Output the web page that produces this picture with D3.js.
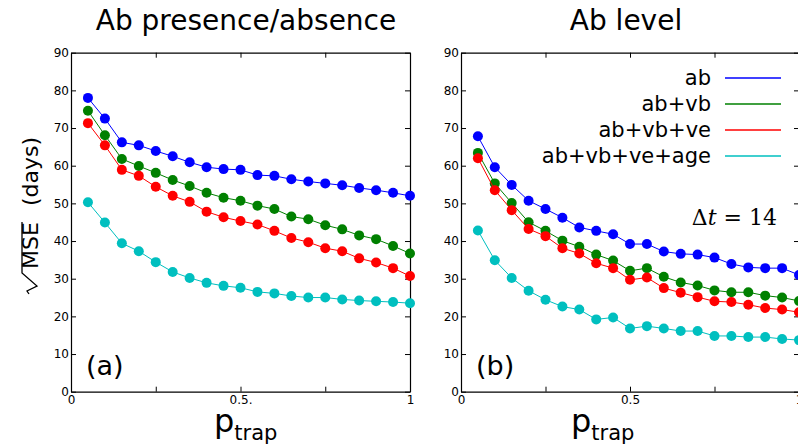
<!DOCTYPE html>
<html>
<head>
  <script src="https://d3js.org/d3.v7.min.js"></script>
  <style>
    body { margin: 0; background: #fff; }
    svg text { font-family: "DejaVu Sans", sans-serif; }
    .tick text { font-size: 12px; fill: #000; }
    .domain { stroke: #000; }
  </style>
</head>
<body>
  <script>
    // p_trap values on the x axis
    const pTrap = [0.05, 0.10, 0.15, 0.20, 0.25, 0.30, 0.35, 0.40, 0.45, 0.50,
                   0.55, 0.60, 0.65, 0.70, 0.75, 0.80, 0.85, 0.90, 0.95, 1.00];

    // (a) Ab presence/absence
    const presAb      = [78.0, 72.5, 66.2, 65.4, 63.9, 62.5, 60.9, 59.6, 59.1, 58.9, 57.5, 57.3, 56.4, 55.8, 55.3, 54.8, 54.1, 53.5, 52.8, 52.0];
    const presAbVb    = [74.6, 68.1, 61.8, 59.9, 58.1, 56.2, 54.6, 52.8, 51.5, 50.7, 49.4, 48.5, 46.5, 45.8, 44.2, 43.1, 41.5, 40.5, 38.7, 36.7];
    const presAbVbVe  = [71.3, 65.4, 58.9, 57.3, 54.4, 52.0, 50.4, 47.8, 46.3, 45.3, 44.4, 42.7, 40.8, 39.7, 38.1, 37.3, 35.4, 34.3, 32.8, 30.7];
    const presAll     = [50.3, 44.9, 39.4, 37.3, 34.4, 31.8, 30.2, 28.9, 28.1, 27.6, 26.5, 26.1, 25.4, 25.0, 25.0, 24.5, 24.2, 24.0, 23.8, 23.5];

    // (b) Ab level
    const levelAb     = [67.8, 59.6, 54.9, 50.7, 48.5, 46.2, 43.6, 42.7, 41.8, 39.2, 39.2, 37.2, 36.6, 36.4, 35.6, 33.9, 33.0, 32.8, 32.8, 31.0];
    const levelAbVb   = [63.4, 55.3, 50.1, 45.0, 42.7, 40.1, 38.5, 36.4, 34.8, 32.1, 32.8, 30.5, 29.0, 28.2, 26.9, 26.4, 26.4, 25.5, 25.0, 24.1];
    const levelAbVbVe = [62.0, 53.5, 48.2, 43.2, 41.3, 38.1, 36.7, 34.1, 32.8, 29.7, 30.3, 27.5, 26.3, 25.1, 24.0, 23.8, 23.1, 22.2, 21.8, 21.1];
    const levelAll    = [42.8, 34.9, 30.2, 26.8, 24.4, 22.6, 21.8, 19.2, 19.7, 16.8, 17.4, 16.8, 16.1, 16.1, 14.8, 14.8, 14.5, 14.5, 14.0, 13.7];

    const seriesNames = ["ab", "ab+vb", "ab+vb+ve", "ab+vb+ve+age"];
    const colors = ["#0000ff", "#008000", "#ff0000", "#00bfbf"];

    const yTicks = [0, 10, 20, 30, 40, 50, 60, 70, 80, 90];
    const xTicks = [0, 0.25, 0.5, 0.75, 1];
    const xTickLabelsA = {0: "0", 0.5: "0.5.", 1: "1"};
    const xTickLabelsB = {0: "0", 0.5: "0.5", 1: "1"};

    const W = 798, H = 444;
    const plotTop = 52.7, plotBottom = 391.7;

    const svg = d3.select("body").append("svg")
      .attr("width", W).attr("height", H);

    function drawPanel(left, right, series, title, titleX, tag, xLabels, labelX) {
      const x = d3.scaleLinear().domain([0, 1]).range([left, right]);
      const y = d3.scaleLinear().domain([0, 90]).range([plotBottom, plotTop]);
      const g = svg.append("g");

      // axes, ticks pointing inwards on all four sides
      g.append("g").attr("transform", "translate(0," + plotBottom + ")")
        .call(d3.axisBottom(x).tickValues(xTicks).tickSize(-5).tickSizeOuter(0).tickPadding(4)
          .tickFormat(d => xLabels[d] || ""));
      g.append("g").attr("transform", "translate(0," + plotTop + ")")
        .call(d3.axisTop(x).tickValues(xTicks).tickSize(-5).tickSizeOuter(0).tickFormat(""));
      g.append("g").attr("transform", "translate(" + left + ",0)")
        .call(d3.axisLeft(y).tickValues(yTicks).tickSize(-5).tickSizeOuter(0).tickPadding(2));
      g.append("g").attr("transform", "translate(" + right + ",0)")
        .call(d3.axisRight(y).tickValues(yTicks).tickSize(-5).tickSizeOuter(0).tickFormat(""));
      g.selectAll(".tick line").attr("stroke", "#000");
      g.selectAll(".domain").attr("stroke-width", 1.2);

      const line = d3.line().x((d, i) => x(pTrap[i])).y(d => y(d));
      series.forEach((vals, k) => {
        g.append("path").datum(vals)
          .attr("d", line).attr("fill", "none")
          .attr("stroke", colors[k]).attr("stroke-width", 1);
        g.selectAll(null).data(vals).enter().append("circle")
          .attr("cx", (d, i) => x(pTrap[i])).attr("cy", d => y(d))
          .attr("r", 5).attr("fill", colors[k]);
      });

      // title
      svg.append("text").attr("x", titleX).attr("y", 30)
        .attr("text-anchor", "middle").attr("font-size", 28).text(title);

      // panel tag
      svg.append("text").attr("x", left + 15).attr("y", 375)
        .attr("font-size", 27).text(tag);

      // x label p_trap
      const xl = svg.append("text").attr("x", labelX).attr("y", 432);
      xl.append("tspan").attr("font-size", 32).text("p");
      xl.append("tspan").attr("font-size", 21).attr("dy", 8).text("trap");
    }

    drawPanel(71, 410, [presAb, presAbVb, presAbVbVe, presAll],
      "Ab presence/absence", 246, "(a)", xTickLabelsA, 214);
    drawPanel(461, 799, [levelAb, levelAbVb, levelAbVbVe, levelAll],
      "Ab level", 626, "(b)", xTickLabelsB, 571);

    // legend in panel (b)
    const leg = svg.append("g");
    seriesNames.forEach((name, k) => {
      const ly = 78 + k * 26;
      leg.append("text").attr("x", 711).attr("y", ly + 7)
        .attr("text-anchor", "end").attr("font-size", 21).text(name);
      leg.append("line").attr("x1", 725).attr("x2", 781)
        .attr("y1", ly).attr("y2", ly)
        .attr("stroke", colors[k]).attr("stroke-width", 1.5);
    });

    // Delta t annotation
    const dt = svg.append("text").attr("x", 777).attr("y", 225)
      .attr("text-anchor", "end").attr("font-size", 22)
      .style("font-family", "'DejaVu Serif', serif");
    dt.append("tspan").text("\u0394");
    dt.append("tspan").attr("font-style", "italic").text("t");
    dt.append("tspan").text(" = 14");

    // y label: sqrt(MSE) (days), rotated
    const yl = svg.append("g").attr("transform", "translate(38,214) rotate(-90)");
    yl.append("text").attr("x", -55).attr("y", 0).attr("font-size", 22).text("MSE");
    yl.append("text").attr("x", 8).attr("y", 0).attr("font-size", 22).text("(days)");
    // radical sign drawn by hand
    yl.append("path")
      .attr("d", "M-80,-9 L-77,-11 L-72,-1 L-59,-16 L-8,-16")
      .attr("fill", "none").attr("stroke", "#000").attr("stroke-width", 1.3);
  </script>
</body>
</html>
